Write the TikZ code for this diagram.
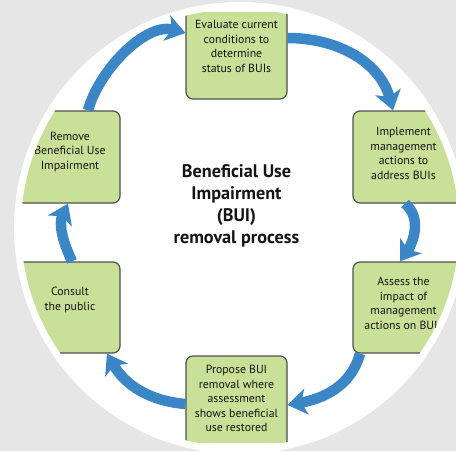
\documentclass[tikz,border=0pt]{standalone}
\usepackage{fontspec}
\setmainfont{PT Sans}
\usetikzlibrary{arrows.meta,calc}
\definecolor{bg}{RGB}{230,230,230}
\definecolor{boxgreen}{RGB}{200,224,152}
\definecolor{boxedge}{RGB}{80,80,80}
\definecolor{arrowblue}{RGB}{59,134,199}
\definecolor{ink}{RGB}{20,20,20}
\begin{document}
\begin{tikzpicture}[x=1pt,y=1pt,
  stepbox/.style={draw=boxedge, line width=1.2pt, fill=boxgreen, rounded corners=7pt, inner sep=0pt},
  boxtext/.style={align=center, font=\fontsize{11.8}{14.5}\selectfont, text=ink, inner sep=0pt},
  flow/.style={draw=arrowblue, line width=10.5pt, -{Stealth[length=19pt,width=26pt,inset=5pt]}},
]
\fill[bg] (0,0) rectangle (456,451);
\useasboundingbox (0,0) rectangle (456,451);
\fill[white] (240,223) circle (226);

\begin{scope}
  \clip (0,9) rectangle (456,438);
  \clip (240,223) circle (219);
  \node[stepbox, minimum width=101pt, minimum height=99pt] (eval) at (236.5,401.5) {};
  \node[stepbox, minimum width=117pt, minimum height=92pt] (impl) at (411.5,294) {};
  \node[stepbox, minimum width=117pt, minimum height=91pt] (assess) at (411.5,143.5) {};
  \node[stepbox, minimum width=101pt, minimum height=104pt] (propose) at (236.5,43) {};
  \node[stepbox, minimum width=120pt, minimum height=91pt] (consult) at (60,143.5) {};
  \node[stepbox, minimum width=120pt, minimum height=92pt] (remove) at (60,294) {};

  \node[boxtext] (evalt) at (236.5,404.5) {Evaluate current\\conditions to\\determine\\status of BUIs};
  \node[boxtext] (implt) at (403.5,297.5) {Implement\\management\\actions to\\address BUIs};
  \node[boxtext] (assesst) at (403.5,147.5) {Assess the\\impact of\\management\\actions on BUIs};
  \node[boxtext] (proposet) at (236.5,52.5) {Propose BUI\\removal where\\assessment\\shows beneficial\\use restored};
  \node[boxtext] (consultt) at (70,151) {Consult\\the public};
  \node[boxtext] (removet) at (70,299) {Remove\\Beneficial Use\\Impairment};
\end{scope}

\node[align=center, font=\bfseries\fontsize{18.2}{22}\selectfont, text=ink] (title) at (236.5,245)
  {Beneficial Use\\Impairment\\(BUI)\\removal process};

\draw[flow] ($(eval.east)+(0,11.5)$) to[out=0, in=105] ($(impl.north)+(-18.5,0)$);
\draw[flow] ($(impl.south)+(-6.5,0)$) to[out=-40, in=55] ($(assess.north)+(-11.5,0)$);
\draw[flow] ($(assess.south)+(-51.5,0)$) to[out=-105, in=10] ($(propose.east)+(0,3)$);
\draw[flow] ($(propose.west)+(0,4)$) to[out=175, in=-60] ($(consult.south)+(47,0)$);
\draw[flow] ($(consult.north)+(12,0)$) to[out=115, in=-115] ($(remove.south)+(8,0)$);
\draw[flow] ($(remove.north)+(28,0)$) to[out=75, in=165, looseness=0.85] ($(eval.west)+(0,16.5)$);
\end{tikzpicture}
\end{document}
